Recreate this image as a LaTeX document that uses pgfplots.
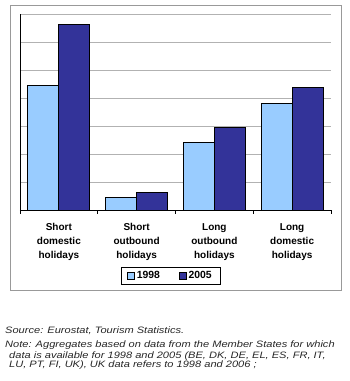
\documentclass[border=0pt]{standalone}
\usepackage{pgfplots}
\pgfplotsset{compat=1.18}
\usepackage{fontspec}
\setmainfont{Liberation Sans}
\newfontfamily\notefont[FakeStretch=1.19]{Liberation Sans}
\definecolor{lightb}{HTML}{99CCFF}
\definecolor{darkb}{HTML}{333399}
\begin{document}
\begin{tikzpicture}[x=1pt,y=1pt]
\path[use as bounding box] (0,0) rectangle (350,381);
\draw[gray!80,line width=0.9pt] (10,91) rectangle (341,376);
\begin{axis}[
  at={(20pt,171pt)}, anchor=south west,
  scale only axis, width=311pt, height=196pt,
  xmin=-0.5, xmax=3.5, ymin=0, ymax=7,
  ybar=0pt, bar width=31pt,
  axis x line*=bottom, axis y line*=left,
  axis line style={black, line width=0.6pt},
  xtick={0,1,2,3},
  xticklabels={{Short\\domestic\\holidays},{Short\\outbound\\holidays},{Long\\outbound\\holidays},{Long\\domestic\\holidays}},
  xticklabel style={align=center, font=\bfseries\fontsize{10}{14}\selectfont, yshift=-10pt},
  major tick length=0pt,
  extra x ticks={-0.5,0.5,1.5,2.5,3.5},
  extra x tick labels={},
  extra x tick style={major tick length=4pt, tick align=outside, tick style={black, line width=0.6pt}, grid=none},
  ytick={0,1,2,3,4,5,6,7}, yticklabels={},
  ymajorgrids, grid style={gray!60, line width=0.7pt},
  legend columns=2,
  legend style={at={(0.484,-0.337)}, anchor=center, draw=black, line width=0.5pt,
    font=\bfseries\fontsize{10.4}{12}\selectfont, inner xsep=6pt, inner ysep=2pt,
    /tikz/every even column/.append style={column sep=17pt}},
  legend image code/.code={\draw[#1, draw=black, line width=0.6pt] (0pt,-3.5pt) rectangle (7pt,3.5pt);},
  clip=false,
]
\addplot[fill=lightb, draw=black, line width=0.8pt] coordinates {(0,4.46) (1,0.45) (2,2.42) (3,3.82)};
\addplot[fill=darkb, draw=black, line width=0.8pt] coordinates {(0,6.62) (1,0.64) (2,2.96) (3,4.39)};
\legend{1998,2005}
\end{axis}
\tikzset{note/.style={anchor=base west, font=\notefont\itshape\fontsize{9.3}{11}\selectfont, text=black!85, inner sep=0pt}}
\node[note] at (5,48) {Source: Eurostat, Tourism Statistics.};
\node[note] at (5,34) {Note: Aggregates based on data from the Member States for which};
\node[note] at (9,23) {data is available for 1998 and 2005 (BE, DK, DE, EL, ES, FR, IT,};
\node[note] at (9,13) {LU, PT, FI, UK), UK data refers to 1998 and 2006 ;};
\end{tikzpicture}
\end{document}
